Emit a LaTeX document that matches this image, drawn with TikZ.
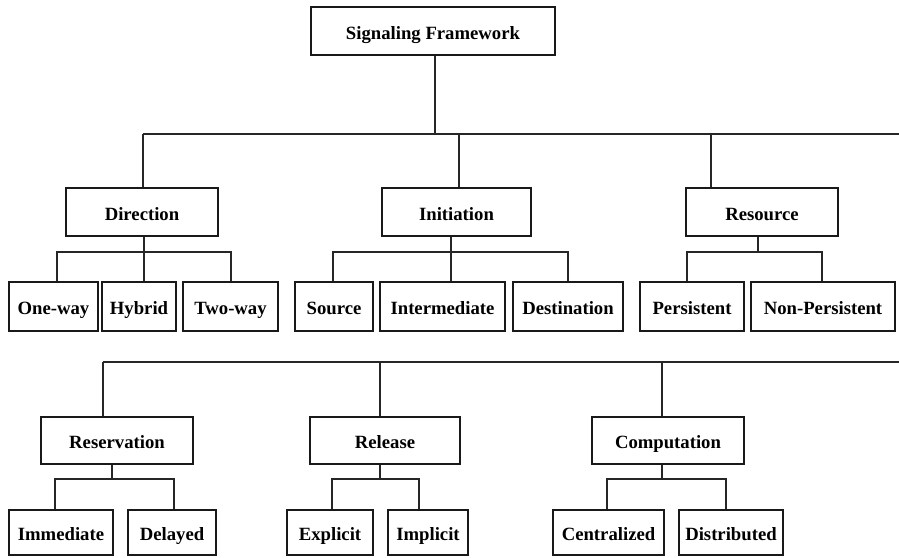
\documentclass[tikz,border=0pt]{standalone}
\usepackage{fontspec}
\setmainfont{Liberation Serif}
\begin{document}
\begin{tikzpicture}[x=1pt,y=1pt,
  box/.style={draw=black!90, line width=1.5pt, inner sep=0pt, minimum height=48pt,
    text height=20pt, text depth=4pt,
    font=\fontsize{18.7}{22}\selectfont\bfseries},
  leaf/.style={box, minimum height=49pt},
  leafb/.style={box, minimum height=45pt},
  con/.style={draw=black!85, line width=1.2pt}]
\useasboundingbox[fill=white] (0,0) rectangle (899,-557);
% top
\node[box, minimum width=244pt] (top) at (433,-31) {Signaling Framework};
% level 1
\node[box, minimum width=152pt] (dir) at (142,-212) {Direction};
\node[box, minimum width=149pt] (ini) at (456.5,-212) {Initiation};
\node[box, minimum width=152pt] (res) at (762,-212) {Resource};
% leaves of level 1
\node[leaf, minimum width=89pt] (oneway) at (53.5,-306.5) {One-way};
\node[leaf, minimum width=74pt] (hybrid) at (139,-306.5) {Hybrid};
\node[leaf, minimum width=95pt] (twoway) at (230.5,-306.5) {Two-way};
\node[leaf, minimum width=78pt] (source) at (334,-306.5) {Source};
\node[leaf, minimum width=125pt] (inter) at (442.5,-306.5) {Intermediate};
\node[leaf, minimum width=110pt] (dest) at (568,-306.5) {Destination};
\node[leaf, minimum width=104pt] (pers) at (692,-306.5) {Persistent};
\node[leaf, minimum width=144pt] (nonpers) at (823,-306.5) {Non-Persistent};
% level 2
\node[box, minimum width=152pt, minimum height=47pt] (resv) at (117,-440.5) {Reservation};
\node[box, minimum width=150pt, minimum height=47pt] (rel) at (385,-440.5) {Release};
\node[box, minimum width=152pt, minimum height=47pt] (comp) at (668,-440.5) {Computation};
% leaves of level 2
\node[leafb, minimum width=104pt] (imm) at (61,-532.5) {Immediate};
\node[leafb, minimum width=88pt] (del) at (172,-532.5) {Delayed};
\node[leafb, minimum width=86pt] (expl) at (330,-532.5) {Explicit};
\node[leafb, minimum width=80pt] (impl) at (428,-532.5) {Implicit};
\node[leafb, minimum width=111pt] (cent) at (608.5,-532.5) {Centralized};
\node[leafb, minimum width=104pt] (dist) at (731,-532.5) {Distributed};
% buses
\coordinate (b1L) at (143,-134);
\coordinate (b1R) at (899,-134);
\coordinate (b2L) at (103,-362);
\coordinate (b2R) at (899,-362);
\draw[con] (b1L) -- (b1R);
\draw[con] (b2L) -- (b2R);
\draw[con] ([xshift=2pt]top.south) -- ([xshift=2pt]top.south |- b1L);
\draw[con] ([xshift=1pt]dir.north) -- ([xshift=1pt]dir.north |- b1L);
\draw[con] ([xshift=2.5pt]ini.north) -- ([xshift=2.5pt]ini.north |- b1L);
\draw[con] ([xshift=-51pt]res.north) -- ([xshift=-51pt]res.north |- b1L);
\draw[con] ([xshift=-14pt]resv.north) -- ([xshift=-14pt]resv.north |- b2L);
\draw[con] ([xshift=-5pt]rel.north) -- ([xshift=-5pt]rel.north |- b2L);
\draw[con] ([xshift=-6pt]comp.north) -- ([xshift=-6pt]comp.north |- b2L);
% Direction group
\coordinate (jd) at (144,-252);
\draw[con] ([xshift=2pt]dir.south) -- (jd);
\draw[con] (jd) -| ([xshift=3.5pt]oneway.north);
\draw[con] (jd) -| ([xshift=0.5pt]twoway.north);
\draw[con] (jd) -- ([xshift=5pt]hybrid.north);
% Initiation group
\coordinate (ji) at (451,-252);
\draw[con] ([xshift=-5.5pt]ini.south) -- (ji);
\draw[con] (ji) -| ([xshift=-1pt]source.north);
\draw[con] (ji) -| (dest.north);
\draw[con] (ji) -- ([xshift=8.5pt]inter.north);
% Resource group
\coordinate (jr) at (758,-252);
\draw[con] ([xshift=-4pt]res.south) -- (jr);
\draw[con] (jr) -| ([xshift=-5pt]pers.north);
\draw[con] (jr) -| ([xshift=-1pt]nonpers.north);
% Reservation group
\coordinate (jv) at (112,-479);
\draw[con] ([xshift=-5pt]resv.south) -- (jv);
\draw[con] (jv) -| ([xshift=-6pt]imm.north);
\draw[con] (jv) -| ([xshift=2pt]del.north);
% Release group
\coordinate (jl) at (380,-479);
\draw[con] ([xshift=-5pt]rel.south) -- (jl);
\draw[con] (jl) -| ([xshift=2pt]expl.north);
\draw[con] (jl) -| ([xshift=-9pt]impl.north);
% Computation group
\coordinate (jc) at (662,-479);
\draw[con] ([xshift=-6pt]comp.south) -- (jc);
\draw[con] (jc) -| ([xshift=-1.5pt]cent.north);
\draw[con] (jc) -| ([xshift=-5pt]dist.north);
\end{tikzpicture}
\end{document}
